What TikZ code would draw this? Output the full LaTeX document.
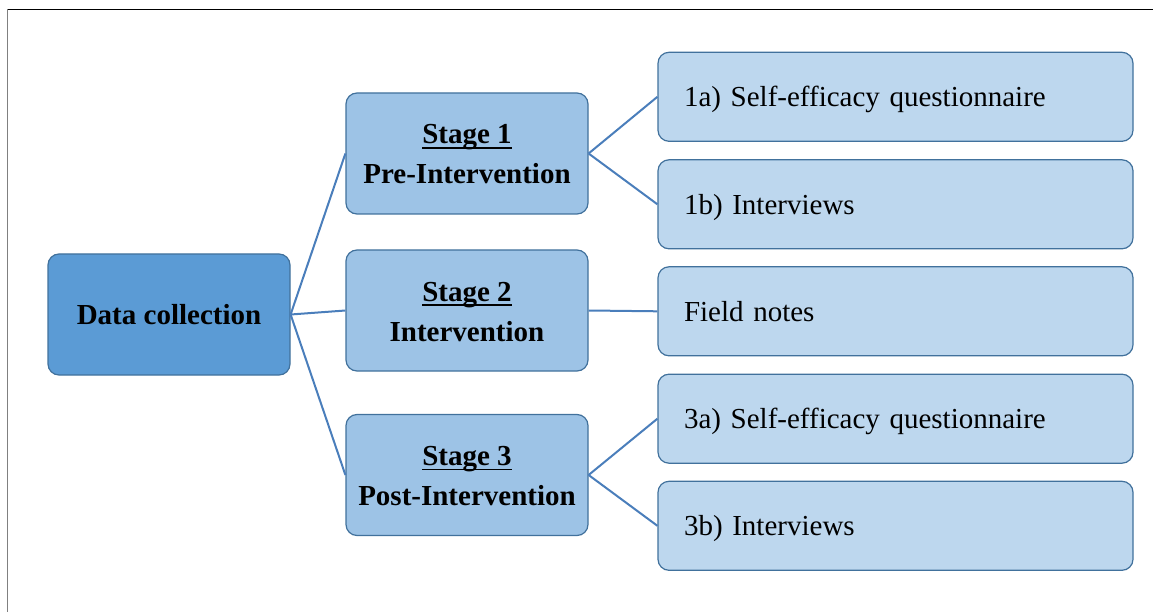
\documentclass[tikz,border=0pt]{standalone}
\usepackage{fontspec}
\setmainfont{Liberation Serif}
\definecolor{rootfill}{HTML}{5B9BD5}
\definecolor{stagefill}{HTML}{9DC3E6}
\definecolor{leaffill}{HTML}{BDD7EE}
\definecolor{boxline}{HTML}{41719C}
\definecolor{linkline}{HTML}{4A7EBB}
% underline that sits just below the baseline, through descenders
\newcommand\ulword[1]{\setbox0\hbox{#1}\rlap{\rule[-4.6pt]{\wd0}{1.4pt}}\box0}
% two centred lines, nudged slightly downwards without changing the box size
\newcommand\stagetext[2]{\raisebox{-2.5pt}[\height][\depth]{\begin{tabular}{@{}c@{}}\ulword{#1}\\#2\end{tabular}}}
\begin{document}
\begin{tikzpicture}[x=1pt,y=-1pt,
  basebox/.style={draw=boxline, line width=1.2pt, rounded corners=11pt,
    inner sep=0pt, text=black},
  rootbox/.style={basebox, fill=rootfill, minimum width=242pt, minimum height=121pt,
    font=\fontsize{29}{40}\selectfont\bfseries},
  stagebox/.style={basebox, fill=stagefill, minimum width=242pt, minimum height=121pt,
    font=\fontsize{29}{40}\selectfont\bfseries},
  leafbox/.style={basebox, fill=leaffill, minimum height=89pt,
    text width=423pt, inner xsep=26pt, align=left,
    text height=20pt, text depth=0pt,
    font=\fontsize{29}{34}\selectfont},
  link/.style={draw=linkline, line width=2pt}]
\path[use as bounding box] (0,0) rectangle (1153,612);
% page frame
\draw[black, line width=1pt] (7.5,9.5) -- (1153,9.5);
\draw[gray, line width=1.4pt] (7.5,9.5) -- (7.5,612);

% root and stages
\node[rootbox] (root) at (169,314.5) {Data collection};
\node[stagebox] (s1) at (467,153.5) {\stagetext{Stage 1}{Pre-Intervention}};
\node[stagebox] (s2) at (467,310.5) {\stagetext{Stage 2}{Intervention}};
\node[stagebox] (s3) at (467,475) {\stagetext{Stage 3}{Post-Intervention}};

% data sources
\node[leafbox] (l1a) at (895.5,96.8) {1a) Self-efficacy questionnaire};
\node[leafbox] (l1b) at (895.5,204.3) {1b) Interviews};
\node[leafbox] (lfn) at (895.5,311.3) {Field notes};
\node[leafbox] (l3a) at (895.5,418.7) {3a) Self-efficacy questionnaire};
\node[leafbox] (l3b) at (895.5,525.8) {3b) Interviews};

% connectors
\path[link] (root.east) -- (s1.west);
\path[link] (root.east) -- (s2.west);
\path[link] (root.east) -- (s3.west);
\path[link] (s1.east) -- (l1a.west);
\path[link] (s1.east) -- (l1b.west);
\path[link] (s2.east) -- (lfn.west);
\path[link] (s3.east) -- (l3a.west);
\path[link] (s3.east) -- (l3b.west);
\end{tikzpicture}
\end{document}
